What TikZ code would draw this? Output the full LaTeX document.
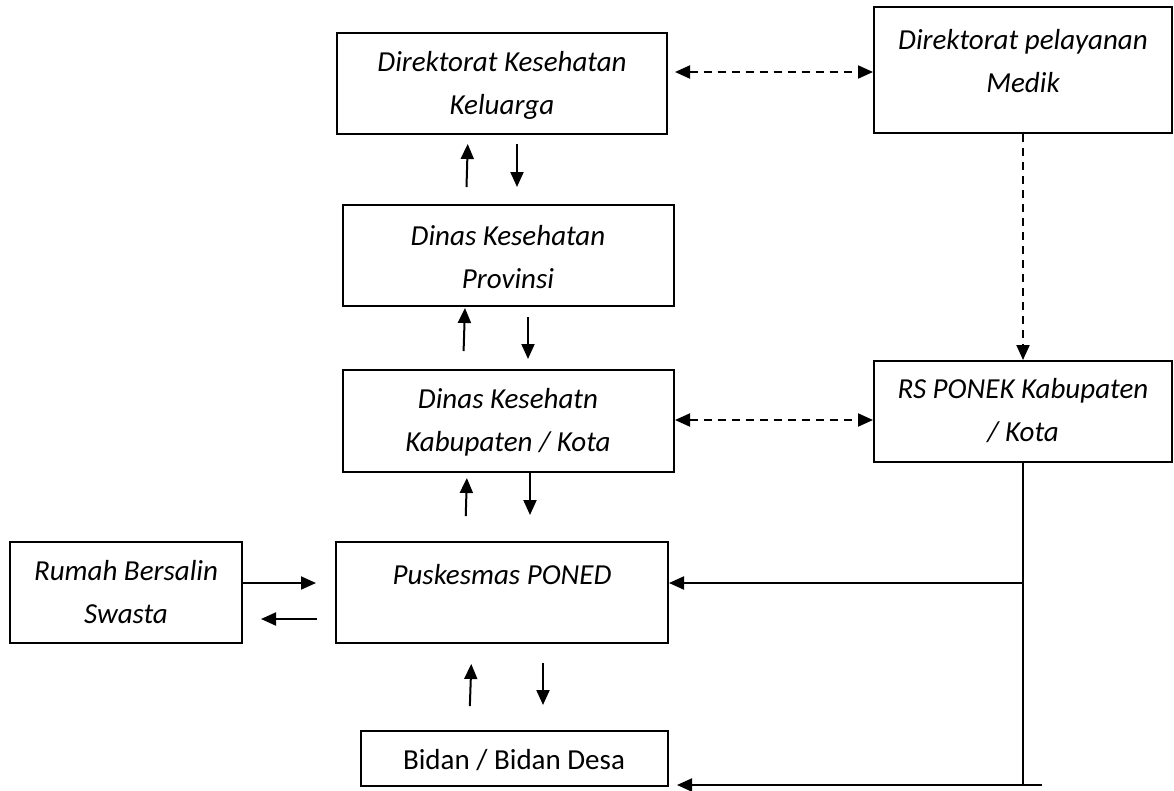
\documentclass[tikz,border=0pt]{standalone}
\usepackage{fontspec}
\setmainfont{Carlito}
\usetikzlibrary{arrows.meta}
\tikzset{
  box/.style={draw, line width=2pt, inner sep=0pt, rectangle},
  lbl/.style={font=\fontsize{29}{43}\selectfont\itshape, align=center, inner sep=0pt},
  lblup/.style={font=\fontsize{29}{43}\selectfont, align=center, inner sep=0pt},
  tip/.style={},
  arr/.style={line width=2pt, -{Triangle[length=15pt,width=13pt]}},
  darr/.style={line width=2pt, dash pattern=on 8pt off 6pt, {Triangle[length=15pt,width=13pt]}-{Triangle[length=15pt,width=13pt]}},
  sdarr/.style={line width=2pt, dash pattern=on 8pt off 6pt, -{Triangle[length=15pt,width=13pt]}},
  plain/.style={line width=2pt},
}
\begin{document}
\begin{tikzpicture}[x=1pt,y=-1pt]
\fill[white] (0,0) rectangle (1174,790);
\useasboundingbox (0,0) rectangle (1174,790);

% boxes
\node[box, minimum width=330pt, minimum height=101pt] (A) at (502,83.5) {};
\node[box, minimum width=298pt, minimum height=126pt] (B) at (1023,70) {};
\node[box, minimum width=331pt, minimum height=101pt] (C) at (508.5,255.5) {};
\node[box, minimum width=331pt, minimum height=102pt] (D) at (508.5,421) {};
\node[box, minimum width=298pt, minimum height=101pt] (E) at (1023,411.5) {};
\node[box, minimum width=332pt, minimum height=101pt] (F) at (502,592.5) {};
\node[box, minimum width=232pt, minimum height=101pt] (R) at (126,592.5) {};
\node[box, minimum width=307pt, minimum height=55pt] (G) at (514.5,758.5) {};

% texts
\node[lbl] (At) at (502,85) {Direktorat Kesehatan\\Keluarga};
\node[lbl] (Bt) at (1023,61) {Direktorat pelayanan\\Medik};
\node[lbl] (Ct) at (508,257) {Dinas Kesehatan\\Provinsi};
\node[lbl] (Dt) at (508,422) {Dinas Kesehatn\\Kabupaten / Kota};
\node[lbl] (Et) at (1023,411) {RS PONEK Kabupaten\\/ Kota};
\node[lbl] (Ft) at (502,575) {Puskesmas PONED};
\node[lbl] (Rt) at (126,592) {Rumah Bersalin\\Swasta};
\node[lblup] (Gt) at (514,760) {Bidan / Bidan Desa};

% dashed connectors
\draw[darr, shorten <=7pt] (A.east |- 0,72) -- (B.west |- 0,72);
\draw[sdarr] (B.south) -- (E.north);
\draw[darr] (D.east |- 0,420) -- (E.west |- 0,420);

% vertical arrows
\draw[arr, shorten <=17pt, shorten >=9pt] (C.north -| 466,0) -- (A.south -| 468,0);
\draw[arr, shorten <=9pt, shorten >=17pt] (A.south -| 517,0) -- (C.north -| 517,0);
\draw[arr, shorten <=18pt, shorten >=1pt] (D.north -| 463,0) -- (C.south -| 465,0);
\draw[arr, shorten <=10pt, shorten >=10pt] (C.south -| 528,0) -- (D.north -| 528,0);
\draw[arr, shorten <=25pt, shorten >=5pt] (F.north -| 465,0) -- (D.south -| 467,0);
\draw[arr, shorten >=26pt] (D.south -| 530,0) -- (F.north -| 530,0);
\draw[arr, shorten <=24pt, shorten >=20pt] (G.north -| 469,0) -- (F.south -| 472,0);
\draw[arr, shorten <=19pt, shorten >=25pt] (F.south -| 543,0) -- (G.north -| 543,0);

% Rumah Bersalin <-> Puskesmas
\draw[arr, shorten >=19pt] (R.east |- 0,583) -- (F.west |- 0,583);
\draw[arr, shorten <=18pt, shorten >=18pt] (F.west |- 0,619) -- (R.east |- 0,619);

% RS PONEK feedback lines
\coordinate (J1) at (1023,583);
\coordinate (J2) at (1023,785);
\coordinate (J3) at (1042,785);
\draw[plain] (E.south) -- (J2);
\draw[arr] (J1) -- (F.east |- J1);
\draw[arr, shorten >=8pt] (J3) -- (G.east |- J3);
\end{tikzpicture}
\end{document}
